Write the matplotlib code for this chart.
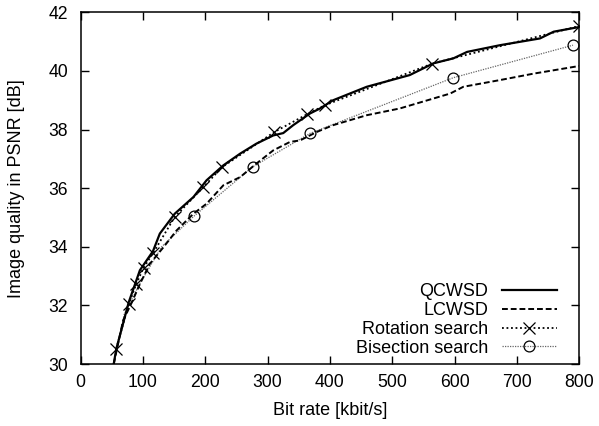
"""Rate-distortion curves: PSNR versus bit rate."""

import matplotlib

matplotlib.use("Agg")
import matplotlib.pyplot as plt

plt.rcParams["font.family"] = ["Liberation Sans", "DejaVu Sans"]

# QCWSD (solid)
qc_rate = [53, 57, 77, 95, 116, 127, 151, 181, 202, 229, 256, 282, 309,
           325, 341, 368, 384, 405, 459, 528, 566, 598, 620, 673, 737,
           759, 800]
qc_psnr = [30.0, 30.5, 32.1, 33.2, 33.85, 34.45, 35.13, 35.7, 36.27, 36.78,
           37.18, 37.52, 37.8, 37.88, 38.15, 38.55, 38.72, 39.0, 39.46,
           39.86, 40.26, 40.43, 40.65, 40.88, 41.11, 41.34, 41.5]

# LCWSD (dashed)
lc_rate = [53, 68, 82, 95, 111, 133, 154, 181, 202, 229, 256, 282, 309,
           336, 352, 379, 405, 459, 512, 566, 593, 614, 673, 727, 800]
lc_psnr = [30.0, 31.48, 32.1, 32.73, 33.42, 33.99, 34.56, 35.13, 35.47,
           36.1, 36.38, 36.84, 37.29, 37.58, 37.63, 37.92, 38.15, 38.49,
           38.72, 39.06, 39.23, 39.46, 39.69, 39.91, 40.17]

# Rotation search (dotted, crosses)
rot_rate = [57, 77, 89, 101, 116, 151, 197, 227, 311, 363, 392, 564, 799]
rot_psnr = [30.52, 32.04, 32.72, 33.29, 33.78, 35.02, 36.04, 36.72, 37.92,
            38.52, 38.83, 40.25, 41.53]

# Bisection search (thin dotted, circles); first points carry no marker
bis_rate = [53, 70, 95, 130, 182, 276, 368, 598, 790]
bis_psnr = [30.0, 31.7, 32.75, 34.0, 35.05, 36.73, 37.87, 39.77, 40.88]
bis_marked = [4, 5, 6, 7, 8]

fig = plt.figure(figsize=(5.99, 4.26), dpi=100)
ax = fig.add_axes([0.1347, 0.1455, 0.8323, 0.8255])

ax.plot(bis_rate, bis_psnr, color="#666666", lw=0.9, ls=(0, (1, 1)),
        marker="o", ms=7.8, mfc="none", mec="black", mew=0.9,
        markevery=bis_marked, label="Bisection search", zorder=2)
ax.plot(lc_rate, lc_psnr, color="black", lw=1.4, ls=(0, (3, 1.5)),
        label="LCWSD", zorder=3)
ax.plot(rot_rate, rot_psnr, color="black", lw=1.3, ls=(0, (1, 1.5)),
        marker="x", ms=8, mew=0.9, label="Rotation search", zorder=4)
ax.plot(qc_rate, qc_psnr, color="black", lw=1.6, label="QCWSD", zorder=5)

ax.set_xlim(0, 800)
ax.set_ylim(30, 42)
ax.set_xticks(range(0, 801, 100))
ax.set_yticks(range(30, 43, 2))
ax.tick_params(direction="in", top=True, right=True, length=6, width=1,
               labelsize=12.7)
ax.tick_params(axis="x", pad=7)
ax.tick_params(axis="y", pad=9)
for s in ax.spines.values():
    s.set_linewidth(1.1)

ax.set_xlabel("Bit rate [kbit/s]", fontsize=13, labelpad=8)
ax.set_ylabel("Image quality in PSNR [dB]", fontsize=13, labelpad=17)

handles, labels = ax.get_legend_handles_labels()
order = ["QCWSD", "LCWSD", "Rotation search", "Bisection search"]
hmap = dict(zip(labels, handles))
ax.legend([hmap[k] for k in order], order, loc="lower right",
          bbox_to_anchor=(0.969, 0.0), frameon=False, markerfirst=False,
          fontsize=13, handlelength=3.0, handletextpad=0.8,
          labelspacing=0.1, borderaxespad=0.0)

fig.savefig("out.png", dpi=100)
